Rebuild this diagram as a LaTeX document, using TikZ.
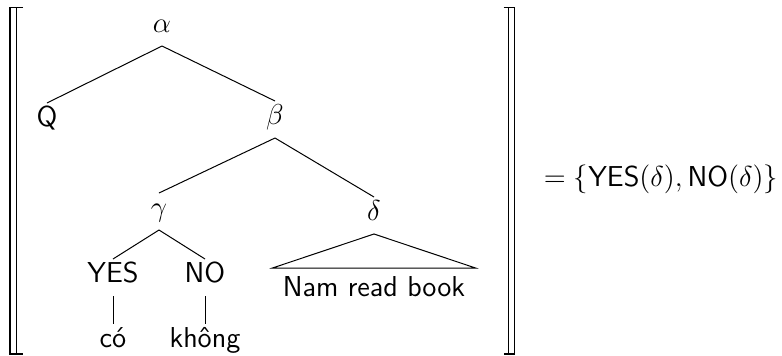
\documentclass[tikz,border=0pt]{standalone}
\begin{document}
\begin{tikzpicture}[x=0.5pt,y=-0.5pt,
  lbl/.style={inner sep=0pt, outer ysep=2pt, text height=9.5pt, text depth=5pt,
              anchor=base, font=\fontsize{14.4}{17}\selectfont\sffamily},
  branch/.style={line width=0.5pt},
  brk/.style={line width=0.75pt, line cap=butt}]
\useasboundingbox (0,0) rectangle (782,355);

% tree nodes (placed at their baselines)
\node[lbl] (alpha) at (162,32)  {$\alpha$};
\node[lbl] (Q)     at (47,126)  {Q};
\node[lbl] (beta)  at (275,124) {$\beta$};
\node[lbl] (gamma) at (159,216) {$\gamma$};
\node[lbl] (delta) at (374,220) {$\delta$};
\node[lbl] (yes)   at (113,282) {YES};
\node[lbl] (no)    at (205,282) {NO};
\node[lbl] (co)    at (113,347) {có};
\node[lbl] (khong) at (205,347) {không};
\node[lbl] (nrb)   at (374,296) {Nam read book};

% branches
\draw[branch] (alpha.south) -- (Q.north);
\draw[branch] (alpha.south) -- (beta.north);
\draw[branch] (beta.south) -- (gamma.north);
\draw[branch] (beta.south) -- (delta.north);
\draw[branch] (gamma.south) -- (yes.north);
\draw[branch] (gamma.south) -- (no.north);
\draw[branch] (yes.south) -- (co.north);
\draw[branch] (no.south) -- (khong.north);

% roof over the unanalysed constituent
\draw[branch] (delta.south)
  -- ([xshift=-5pt,yshift=2.5pt]nrb.north west)
  -- ([xshift=5pt,yshift=2.5pt]nrb.north east) -- cycle;

% semantic value brackets
\coordinate (lt) at (10,7.5);   \coordinate (lb) at (10,354);
\coordinate (rt) at (514.5,7.5); \coordinate (rb) at (514.5,354);
\draw[brk] ([xshift=6.5pt]lt) -- (lt) -- (lb) -- ([xshift=6.5pt]lb);
\draw[brk] ([xshift=3.25pt]lt) -- ([xshift=3.25pt]lb);
\draw[brk] ([xshift=-5.5pt]rt) -- (rt) -- (rb) -- ([xshift=-5.5pt]rb);
\draw[brk] ([xshift=-3pt]rt) -- ([xshift=-3pt]rb);

% value
\node[lbl] (eq) at (661,186) {$=\{\textsf{YES}(\delta),\textsf{NO}(\delta)\}$};
\end{tikzpicture}
\end{document}
